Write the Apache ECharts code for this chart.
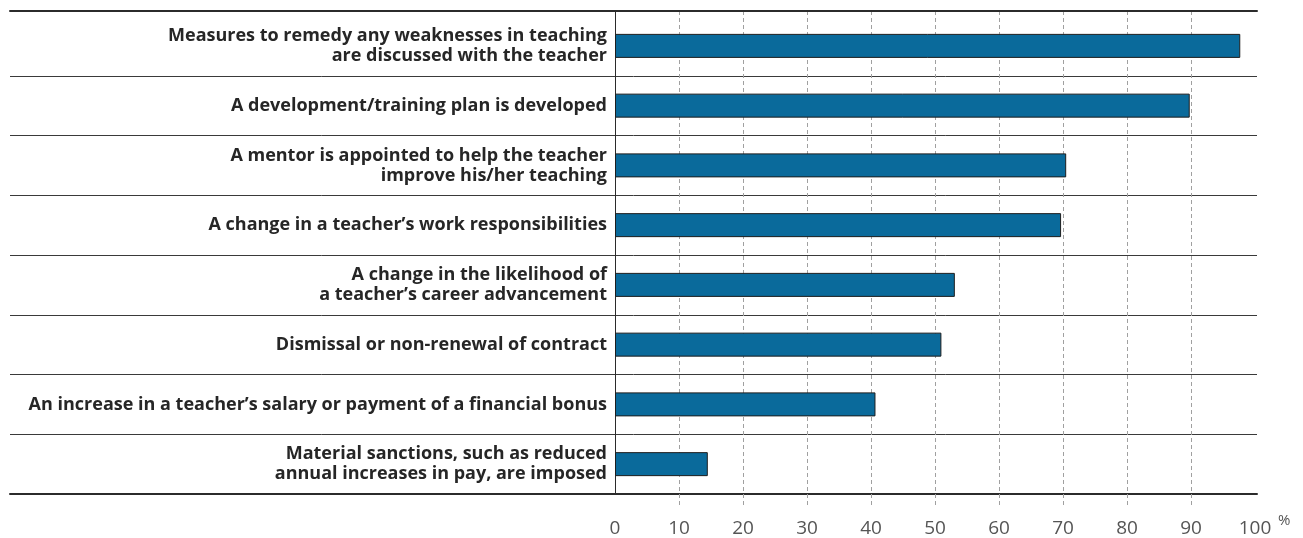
<!DOCTYPE html>
<html>
<head>
<meta charset="utf-8">
<script src="https://cdn.jsdelivr.net/npm/echarts@6/dist/echarts.min.js"></script>
<style>html,body{margin:0;padding:0;background:#fff}#c{width:1303px;height:538px}</style>
</head>
<body>
<div id="c"></div>
<script>
const categories = [
  'Measures to remedy any weaknesses in teaching\nare discussed with the teacher',
  'A development/training plan is developed',
  'A mentor is appointed to help the teacher\nimprove his/her teaching',
  'A change in a teacher\u2019s work responsibilities',
  'A change in the likelihood of\na teacher\u2019s career advancement',
  'Dismissal or non-renewal of contract',
  'An increase in a teacher\u2019s salary or payment of a financial bonus',
  'Material sanctions, such as reduced\nannual increases in pay, are imposed'
];
const values = [97.7, 89.8, 70.5, 69.7, 53.1, 51.0, 40.7, 14.5];
const tickValues = [0, 10, 20, 30, 40, 50, 60, 70, 80, 90, 100];
const unitLabel = '%';

const FONT = "'Open Sans', 'Noto Sans', sans-serif";
const chart = echarts.init(document.getElementById('c'), null, {renderer: 'canvas'});
const inner = tickValues.filter(v => v > tickValues[0] && v < tickValues[tickValues.length - 1]);

chart.setOption({
  animation: false,
  grid: [
    {left: 615, right: 48, top: 16, bottom: 44, containLabel: false, outerBoundsMode: 'none'},
    {left: 10, right: 46, top: 16, bottom: 44, containLabel: false, outerBoundsMode: 'none'},
    {left: 615, right: 48, top: 11, bottom: 44, containLabel: false, outerBoundsMode: 'none'}
  ],
  xAxis: [
    {
      gridIndex: 0, type: 'value', min: tickValues[0], max: tickValues[tickValues.length - 1], interval: 10,
      axisLine: {show: false},
      splitLine: {show: false},
      axisTick: {show: true, length: 14, customValues: inner, lineStyle: {color: '#a0a0a0', type: [4, 3], width: 1}},
      axisLabel: {show: true, margin: 25, fontSize: 19, color: '#555555', fontFamily: FONT},
      name: unitLabel, nameLocation: 'end', nameGap: 23,
      nameTextStyle: {fontSize: 15, color: '#555555', fontFamily: FONT, align: 'left', verticalAlign: 'top', lineHeight: 54}
    },
    {
      gridIndex: 1, type: 'value', min: 0, max: 1, position: 'top', offset: 5,
      axisLine: {show: true, lineStyle: {color: '#2b2b2b', width: 2}},
      axisTick: {show: false}, axisLabel: {show: false}, splitLine: {show: false}
    },
    {
      gridIndex: 1, type: 'value', min: 0, max: 1, position: 'bottom',
      axisLine: {show: true, onZero: false, lineStyle: {color: '#2b2b2b', width: 2}},
      axisTick: {show: false}, axisLabel: {show: false}, splitLine: {show: false}
    },
    {
      gridIndex: 2, type: 'value', min: tickValues[0], max: tickValues[tickValues.length - 1], interval: 10,
      axisLine: {show: false}, axisTick: {show: false}, axisLabel: {show: false},
      splitLine: {show: true, showMinLine: false, showMaxLine: false, lineStyle: {color: '#a0a0a0', type: [4, 3], width: 1}}
    }
  ],
  yAxis: [
    {
      gridIndex: 0, type: 'category', data: categories, inverse: true,
      axisLine: {show: false}, axisTick: {show: false}, splitLine: {show: false},
      axisLabel: {show: true, margin: 8, fontSize: 18, fontWeight: 'bold', color: '#262626', fontFamily: FONT, lineHeight: 20, align: 'right'}
    },
    {
      gridIndex: 1, type: 'category', data: categories, inverse: true,
      axisLine: {show: false}, axisTick: {show: false}, axisLabel: {show: false},
      splitLine: {show: true, interval: 0, showMinLine: false, lineStyle: {color: '#3a3a3a', width: 1}}
    },
    {
      gridIndex: 2, type: 'value', min: 0, max: 1,
      axisLine: {show: true, onZero: false, lineStyle: {color: '#2b2b2b', width: 1}},
      axisTick: {show: false}, axisLabel: {show: false}, splitLine: {show: false}
    }
  ],
  series: [{
    type: 'bar', xAxisIndex: 0, yAxisIndex: 0, data: values, barWidth: 24,
    itemStyle: {color: '#0a6a9b', borderColor: '#1e1e1e', borderWidth: 1},
    z: 5
  }]
});
</script>
</body>
</html>
